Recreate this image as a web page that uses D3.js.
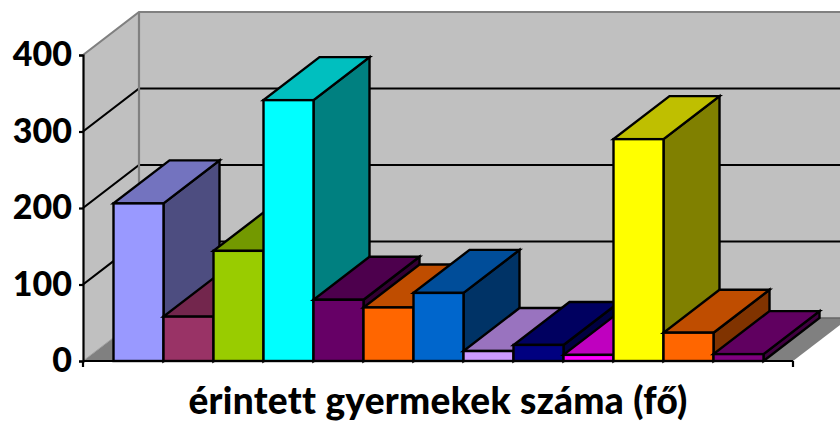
<!DOCTYPE html>
<html><head><meta charset="utf-8">
<script src="https://cdnjs.cloudflare.com/ajax/libs/d3/7.8.5/d3.min.js"></script>
<style>html,body{margin:0;padding:0;background:#fff;overflow:hidden}svg{display:block}</style>
</head><body><svg id="c" width="840" height="421"></svg>
<script>
const categories = ["1","2","3","4","5","6","7","8","9","10","11","12","13"];
const values = [206,58,144,341,80,70,89,13,21,8,290,37,9];
const colors = ["#9999ff","#993366","#99cc00","#00ffff","#660066","#ff6600","#0066cc","#cc99ff","#000080","#ff00ff","#ffff00","#ff6600","#800080"];
const yTicks = [0,100,200,300,400];
const axisTitle = "érintett gyermekek száma (fő)";

const svg = d3.select("#c");
const font = "Lato, Carlito, sans-serif";
const x0 = 83, x1 = 793, y0 = 361, y1 = 55, dx = 56, dy = -43, pad = 30.5;
const x = d3.scaleBand().domain(categories).range([x0 + pad, x1 - pad + 1]).paddingInner(0).paddingOuter(0);
const y = d3.scaleLinear().domain([0, 400]).range([y0, y1]);
const poly = pts => pts.map(p => p.join(",")).join(" ");
const shade = (c, k) => { const r = d3.rgb(c); return d3.rgb(r.r * k, r.g * k, r.b * k).formatHex(); };

// walls
const grey = "#808080", wall = "#c0c0c0";
svg.append("polygon").attr("points", poly([[x0,y0],[x0+dx,y0+dy],[x0+dx,y1+dy],[x0,y1]])).attr("fill", wall);
svg.append("polygon").attr("points", poly([[x0+dx,y0+dy],[x1+dx,y0+dy],[x1+dx,y1+dy],[x0+dx,y1+dy]])).attr("fill", wall);
svg.append("polygon").attr("points", poly([[x0,y0],[x1,y0],[x1+dx,y0+dy],[x0+dx,y0+dy]])).attr("fill", grey);

// gridlines
yTicks.forEach(t => {
  const yy = y(t), c = (t === 400) ? grey : "#000";
  if (t === 0) {
    svg.append("path").attr("d", `M${x0},${yy}L${x0+dx},${yy+dy}`).attr("stroke", "#a0a0a0").attr("stroke-width", 1).attr("fill","none");
    svg.append("path").attr("d", `M${x0+dx},${yy+dy}H${x1+dx}`).attr("stroke", "#666").attr("stroke-width", 1.5).attr("fill","none");
    return;
  }
  svg.append("path").attr("d", `M${x0},${yy}L${x0+dx},${yy+dy}H${x1+dx}`).attr("stroke", c).attr("stroke-width", 2.2).attr("fill","none");
});
svg.append("path").attr("d", `M${x0+dx},${y0+dy}V${y1+dy}`).attr("stroke", grey).attr("stroke-width", 2.2).attr("fill","none");

// bars, painted left to right
categories.forEach((cat, i) => {
  const l = x(cat), r = l + x.bandwidth(), t = y(values[i]);
  const g = svg.append("g").attr("stroke", "#000").attr("stroke-width", 2.4).attr("stroke-linejoin", "miter");
  g.append("polygon").attr("points", poly([[r,y0],[r+dx,y0+dy],[r+dx,t+dy],[r,t]])).attr("fill", shade(colors[i], 0.5));
  g.append("polygon").attr("points", poly([[l,t],[r,t],[r+dx,t+dy],[l+dx,t+dy]])).attr("fill", shade(colors[i], 0.75));
  g.append("rect").attr("x", l).attr("y", t).attr("width", r - l).attr("height", y0 - t).attr("fill", colors[i]);
});

// front axis line with ticks at both ends
svg.append("path").attr("d", `M${x0},${y0}H${x1}M${x1},${y0}V${y0+6}M${x0},${y0}V${y0+6}`).attr("stroke", "#000").attr("stroke-width", 2.2).attr("fill", "none");

// value axis
const ax = svg.append("g").attr("transform", `translate(${x0},0)`)
  .call(d3.axisLeft(y).tickValues(yTicks).tickSize(4).tickPadding(7).tickFormat(d3.format("d")));
ax.select(".domain").attr("stroke", "#000").attr("stroke-width", 2.2);
ax.selectAll(".tick line").attr("stroke", "#000").attr("stroke-width", 2.2);
ax.selectAll("text").attr("font-family", font).attr("font-weight", 900).attr("font-size", 34).attr("fill", "#000");

svg.append("text").attr("x", 438).attr("y", 414).attr("text-anchor", "middle")
  .attr("font-family", font).attr("font-weight", 900).attr("font-size", 37).attr("letter-spacing", 0.3).attr("fill", "#000").text(axisTitle);
</script></body></html>
